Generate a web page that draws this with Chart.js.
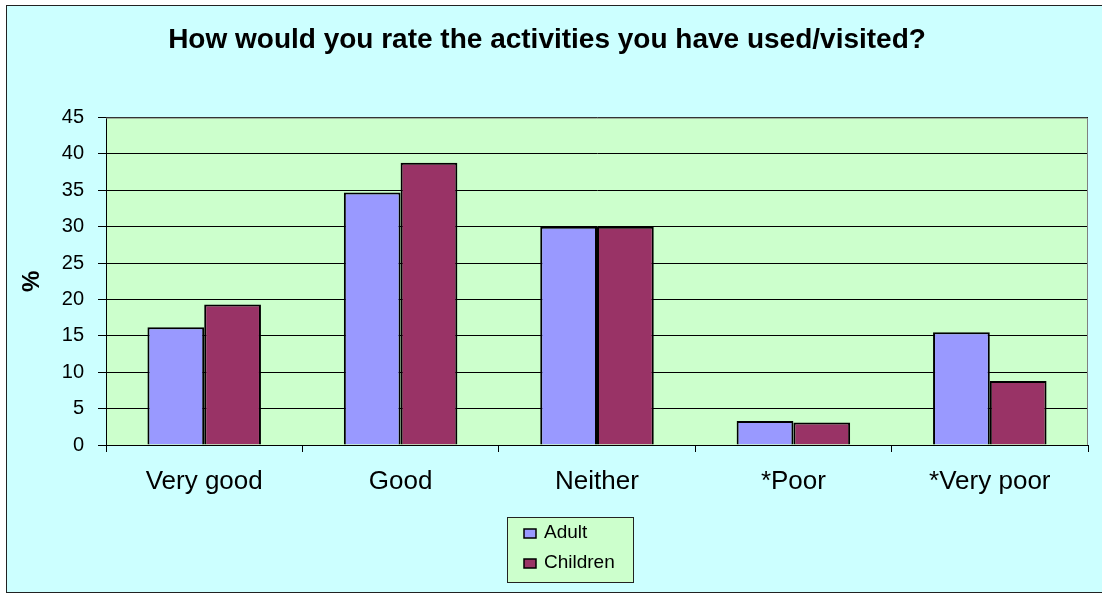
<!DOCTYPE html>
<html>
<head>
<meta charset="utf-8">
<title>Activities rating</title>
<script src="https://cdn.jsdelivr.net/npm/chart.js@4/dist/chart.umd.min.js"></script>
<style>
  html, body { margin: 0; padding: 0; background: #fff; }
  #wrap { width: 1102px; height: 595px; position: relative; }
</style>
</head>
<body>
<div id="wrap"><canvas id="chart"></canvas></div>
<script>
'use strict'

// Data
const categories = ['Very good', 'Good', 'Neither', '*Poor', '*Very poor'];
const adult = [16.2, 34.7, 30, 3.3, 15.5];
const children = [19.3, 38.8, 30, 3.1, 8.8];
const seriesNames = ['Adult', 'Children'];
const yTicks = [0, 5, 10, 15, 20, 25, 30, 35, 40, 45];

const FONT = 'Arial, "Liberation Sans", sans-serif';

// Background, outer border and plot area fill
const backdrop = {
    id: 'backdrop',
    beforeDraw(chart) {
        const {ctx, chartArea: a} = chart;
        ctx.save();
        ctx.fillStyle = '#ffffff';
        ctx.fillRect(0, 0, chart.width, chart.height);
        ctx.fillStyle = '#ccffff';
        ctx.fillRect(6, 5, chart.width, 588);
        ctx.strokeStyle = '#222';
        ctx.lineWidth = 1;
        ctx.strokeRect(6.5, 5.5, chart.width + 10, 587);
        ctx.fillStyle = '#ccffcc';
        ctx.fillRect(a.left, a.top, a.right - a.left, a.bottom - a.top);
        ctx.restore();
    },
    beforeDatasetsDraw(chart) {
        const {ctx, chartArea: a} = chart;
        ctx.save();
        ctx.strokeStyle = '#808080';
        ctx.lineWidth = 1;
        ctx.beginPath();
        ctx.moveTo(a.left, a.top + 0.5);
        ctx.lineTo(a.right - 0.5, a.top + 0.5);
        ctx.lineTo(a.right - 0.5, a.bottom);
        ctx.stroke();
        ctx.restore();
    }
};

// Boxed legend stacked vertically under the axis
const boxLegend = {
    id: 'boxLegend',
    afterDraw(chart) {
        const {ctx} = chart;
        const x = 507, y = 517, w = 126, h = 65;
        ctx.save();
        ctx.fillStyle = '#ccffcc';
        ctx.fillRect(x, y, w, h);
        ctx.strokeStyle = '#222';
        ctx.lineWidth = 1;
        ctx.strokeRect(x + 0.5, y + 0.5, w, h);
        ctx.font = '19px ' + FONT;
        ctx.textBaseline = 'alphabetic';
        chart.data.datasets.forEach((ds, i) => {
            const base = 538 + i * 30;
            ctx.fillStyle = ds.backgroundColor;
            ctx.fillRect(524, base - 9, 12, 9);
            ctx.strokeStyle = '#000';
            ctx.lineWidth = 1.5;
            ctx.strokeRect(524, base - 9, 12, 9);
            ctx.fillStyle = '#000';
            ctx.fillText(ds.label, 544, base);
        });
        ctx.restore();
    }
};

new Chart(document.getElementById('chart'), {
    type: 'bar',
    data: {
        labels: categories,
        datasets: [{
            label: seriesNames[0],
            data: adult,
            backgroundColor: '#9999ff',
            borderColor: '#000',
            borderWidth: 2,
            categoryPercentage: 0.578,
            barPercentage: 1
        }, {
            label: seriesNames[1],
            data: children,
            backgroundColor: '#993366',
            borderColor: '#000',
            borderWidth: 2,
            categoryPercentage: 0.578,
            barPercentage: 1
        }]
    },
    options: {
        responsive: true,
        maintainAspectRatio: false,
        animation: false,
        layout: { padding: { left: 6, right: 14, top: 0, bottom: 0 } },
        plugins: {
            legend: { display: false },
            tooltip: { enabled: false },
            title: {
                display: true,
                text: 'How would you rate the activities you have used/visited?',
                color: '#000',
                font: { family: FONT, size: 28, weight: 'bold' },
                padding: { top: 23, bottom: 61 }
            }
        },
        scales: {
            x: {
                grid: {
                    offset: true,
                    drawOnChartArea: false,
                    tickLength: 7,
                    color: '#000'
                },
                border: { color: '#000', width: 1 },
                ticks: {
                    color: '#000',
                    font: { family: FONT, size: 26 },
                    padding: 14,
                    maxRotation: 0
                },
                afterFit(s) { s.height = 150; }
            },
            y: {
                min: 0,
                max: 45,
                afterBuildTicks(s) { s.ticks = yTicks.map(v => ({value: v})); },
                grid: { color: '#000', lineWidth: 1, tickLength: 8 },
                border: { color: '#000', width: 1 },
                ticks: {
                    color: '#000',
                    font: { family: FONT, size: 20 },
                    padding: 14
                },
                title: {
                    display: true,
                    text: '%',
                    color: '#000',
                    font: { family: FONT, size: 24, weight: 'bold' },
                    padding: { top: 12 }
                },
                afterFit(s) { s.width = 100; }
            }
        }
    },
    plugins: [backdrop, boxLegend]
});
</script>
</body>
</html>
